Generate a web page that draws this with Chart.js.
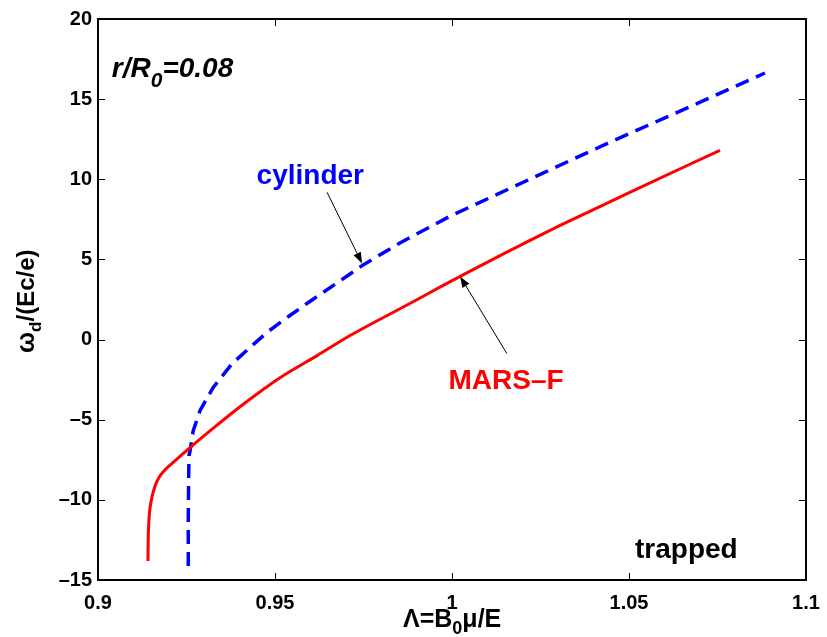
<!DOCTYPE html>
<html>
<head>
<meta charset="utf-8">
<script src="https://cdn.jsdelivr.net/npm/chart.js@4.4.1/dist/chart.umd.min.js"></script>
<style>
  html, body { margin: 0; padding: 0; background: #fff; }
  #grafico { display: block; }
</style>
</head>
<body>
<canvas id="grafico" width="827" height="637"></canvas>
<script>
// MARS-F curve
const marsX = [0.91412, 0.91418, 0.91438, 0.9146, 0.91503, 0.91568, 0.91653, 0.91751, 0.91879, 0.92062,
               0.92288, 0.92551, 0.92966, 0.93362, 0.94011, 0.95141, 0.9619, 0.9712, 0.9881, 1.0023,
               1.0277, 1.0398, 1.0511, 1.0757];
const marsY = [-13.81, -12.56, -11.31, -10.69, -10.06, -9.44, -8.91, -8.5, -8.16, -7.78,
               -7.34, -6.84, -6.06, -5.34, -4.19, -2.38, -1.0, 0.25, 2.25, 3.94,
               6.81, 8.09, 9.28, 11.81];

// cylinder curve
const cylX = [0.9255, 0.9255, 0.9256, 0.9257, 0.926, 0.9269, 0.9288, 0.9325, 0.9379, 0.9429,
              0.9477, 0.9542, 0.959, 0.9636, 0.9712, 0.9749, 0.9853, 0.9994, 1.0277, 1.0446,
              1.0701, 1.0884];
const cylY = [-14.13, -11.31, -8.81, -7.25, -6.94, -5.69, -4.44, -3.0, -1.5, -0.5,
              0.44, 1.5, 2.25, 2.94, 4.09, 4.66, 6.03, 7.69, 10.59, 12.31,
              14.81, 16.63];

const xTicks = [0.9, 0.95, 1, 1.05, 1.1];
const xTickLabels = ['0.9', '0.95', '1', '1.05', '1.1'];
const yTicks = [-15, -10, -5, 0, 5, 10, 15, 20];
const yTickLabels = ['\u201315', '\u201310', '\u20135', '0', '5', '10', '15', '20'];

const FONT = '"Liberation Sans", Arial, Helvetica, sans-serif';

function pontos(xs, ys) {
    return xs.map((x, i) => ({ x: x, y: ys[i] }));
}

// texto com subscritos: partes = [texto, fonte, deslocamento]
function textoRico(ctx, x, y, partes) {
    partes.forEach(([t, fonte, dy]) => {
        ctx.font = fonte;
        ctx.fillText(t, x, y + dy);
        x += ctx.measureText(t).width;
    });
}

function seta(ctx, x0, y0, x1, y1) {
    const ang = Math.atan2(y1 - y0, x1 - x0);
    const len = 11, larg = 4;
    ctx.strokeStyle = '#000';
    ctx.lineWidth = 1;
    ctx.beginPath();
    ctx.moveTo(x0, y0);
    ctx.lineTo(x1 - len * Math.cos(ang), y1 - len * Math.sin(ang));
    ctx.stroke();
    ctx.fillStyle = '#000';
    ctx.beginPath();
    ctx.moveTo(x1, y1);
    ctx.lineTo(x1 - len * Math.cos(ang) + larg * Math.sin(ang), y1 - len * Math.sin(ang) - larg * Math.cos(ang));
    ctx.lineTo(x1 - len * Math.cos(ang) - larg * Math.sin(ang), y1 - len * Math.sin(ang) + larg * Math.cos(ang));
    ctx.closePath();
    ctx.fill();
}

const moldura = {
    id: 'moldura',
    afterDraw(chart) {
        const { ctx, chartArea: a, scales: { x, y } } = chart;
        ctx.save();

        // ticks para dentro, nos quatro lados
        ctx.strokeStyle = '#000';
        ctx.lineWidth = 1;
        ctx.beginPath();
        xTicks.forEach(v => {
            const px = Math.round(x.getPixelForValue(v)) + 0.5;
            ctx.moveTo(px, a.bottom); ctx.lineTo(px, a.bottom - 7);
            ctx.moveTo(px, a.top); ctx.lineTo(px, a.top + 7);
        });
        yTicks.forEach(v => {
            const py = Math.round(y.getPixelForValue(v)) + 0.5;
            ctx.moveTo(a.left, py); ctx.lineTo(a.left + 7, py);
            ctx.moveTo(a.right, py); ctx.lineTo(a.right - 7, py);
        });
        ctx.stroke();

        ctx.lineWidth = 2;
        ctx.strokeRect(a.left, a.top, a.right - a.left, a.bottom - a.top);

        // setas
        seta(ctx, x.getPixelForValue(0.9647), y.getPixelForValue(9.19),
                  x.getPixelForValue(0.9746), y.getPixelForValue(4.75));
        seta(ctx, x.getPixelForValue(1.0155), y.getPixelForValue(-0.875),
                  x.getPixelForValue(1.0023), y.getPixelForValue(3.94));

        ctx.textBaseline = 'alphabetic';
        ctx.textAlign = 'left';

        ctx.fillStyle = '#0000ff';
        ctx.font = 'bold 28px ' + FONT;
        ctx.fillText('cylinder', x.getPixelForValue(0.9448), y.getPixelForValue(9.73));

        ctx.fillStyle = '#ff0000';
        ctx.fillText('MARS\u2013F', x.getPixelForValue(0.999), y.getPixelForValue(-3.08));

        ctx.fillStyle = '#000';
        ctx.fillText('trapped', x.getPixelForValue(1.0517), y.getPixelForValue(-13.6));

        textoRico(ctx, x.getPixelForValue(0.9039), y.getPixelForValue(16.375), [
            ['r/R', 'italic bold 28px ' + FONT, 0],
            ['0', 'italic bold 21px ' + FONT, 10],
            ['=0.08', 'italic bold 28px ' + FONT, 0]
        ]);

        // rótulo do eixo x
        textoRico(ctx, 403, 627, [
            ['\u039B=B', 'bold 25px ' + FONT, 0],
            ['0', 'bold 18px ' + FONT, 7],
            ['\u03BC/E', 'bold 25px ' + FONT, 0]
        ]);

        // rótulo do eixo y
        ctx.translate(34, 353);
        ctx.rotate(-Math.PI / 2);
        textoRico(ctx, 0, 0, [
            ['\u03C9', 'bold 25px ' + FONT, 0],
            ['d', 'bold 17px ' + FONT, 7],
            ['/(Ec/e)', 'bold 24px ' + FONT, 0]
        ]);

        ctx.restore();
    }
};

new Chart(document.getElementById('grafico'), {
    type: 'scatter',
    data: {
        datasets: [
            {
                label: 'MARS-F',
                data: pontos(marsX, marsY),
                showLine: true,
                borderColor: '#ff0000',
                borderWidth: 3,
                pointRadius: 0,
                cubicInterpolationMode: 'monotone'
            },
            {
                label: 'cylinder',
                data: pontos(cylX, cylY),
                showLine: true,
                borderColor: '#0000ff',
                borderWidth: 3.5,
                borderDash: [14, 8],
                pointRadius: 0,
                tension: 0
            }
        ]
    },
    options: {
        responsive: false,
        animation: false,
        devicePixelRatio: 1,
        layout: { padding: { top: 19, right: 21, left: 0, bottom: 0 } },
        plugins: {
            legend: { display: false },
            tooltip: { enabled: false }
        },
        scales: {
            x: {
                type: 'linear',
                min: 0.9,
                max: 1.1,
                afterBuildTicks: s => { s.ticks = xTicks.map(v => ({ value: v })); },
                afterFit: s => { s.height = 57; s.paddingLeft = 0; s.paddingRight = 0; },
                grid: { display: false, drawTicks: false },
                border: { display: false },
                ticks: {
                    padding: 11,
                    maxRotation: 0,
                    color: '#000',
                    font: { family: FONT, size: 20, weight: 'bold' },
                    callback: (v, i) => xTickLabels[i]
                }
            },
            y: {
                type: 'linear',
                min: -15,
                max: 20,
                afterBuildTicks: s => { s.ticks = yTicks.map(v => ({ value: v })); },
                afterFit: s => { s.width = 98; s.paddingTop = 0; s.paddingBottom = 0; },
                grid: { display: false, drawTicks: false },
                border: { display: false },
                ticks: {
                    padding: 6,
                    color: '#000',
                    font: { family: FONT, size: 20, weight: 'bold' },
                    callback: (v, i) => yTickLabels[i]
                }
            }
        }
    },
    plugins: [moldura]
});
</script>
</body>
</html>
